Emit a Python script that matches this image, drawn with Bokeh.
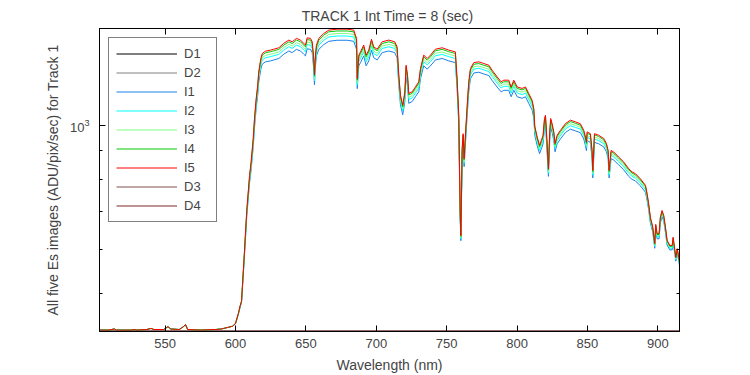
from bokeh.plotting import figure
from bokeh.models import (Range1d, FixedTicker, LinearAxis, LogAxis, Legend, LegendItem,
                          CustomJSTickFormatter)
from bokeh.embed import file_html
from bokeh.resources import INLINE

# ---------------- data ----------------
WAVELENGTH = [
    503.4, 510, 514, 515.5, 526, 528, 530, 537, 540, 542,
    549, 552, 554, 560, 563, 564.5, 566, 575, 586, 590,
    595, 598, 600, 602, 603.3, 604.3, 606, 608, 610, 611.1,
    612.6, 613.5, 614.7, 615.8, 616.5, 618, 619, 621.3, 624.9, 627.2,
    630.8, 634.3, 637.9, 640.3, 643.3, 646.2, 648.5, 649.7, 650.9, 653.3,
    654.5, 655.6, 656.1, 656.8, 657.5, 659.2, 662.7, 666.3, 672.2, 679.3,
    684, 685.2, 686, 686.5, 687.6, 688.8, 691.1, 692.8, 694.7, 696.6,
    698.2, 700.6, 704.2, 708.9, 713.1, 714.8, 716, 717.2, 718.8, 720.3,
    721.2, 722.2, 723.1, 725.5, 727.8, 730.2, 731.4, 733.7, 736.2, 738.5,
    742, 746.8, 751.5, 756.2, 757.4, 758.6, 759.6, 760.1, 761, 761.7,
    762.4, 763.4, 764.6, 765.7, 766.9, 769.3, 772.8, 776.4, 780, 782.3,
    785.9, 788.7, 790.6, 794.1, 795.8, 797.7, 800.1, 803.6, 806, 808.3,
    810.7, 811.9, 812.6, 814.3, 816, 817.3, 818.5, 819.5, 820.2, 820.9,
    821.8, 822.3, 823.2, 823.9, 824.9, 826.1, 827, 828.5, 830.8, 834.4,
    837.9, 841.5, 845, 847.4, 848.6, 849.3, 849.8, 852.1, 853.3, 853.8,
    855, 858, 861.6, 863.5, 864.7, 865.4, 866.8, 868.7, 872.2, 875.8,
    879.3, 881.7, 884.1, 887.6, 891.2, 892.4, 893.5, 894.7, 896.4, 897.8,
    898.5, 899.5, 900.9, 901.8, 903, 904.2, 905.4, 906.6, 908.5, 910.2,
    910.9, 911.8, 912.8, 913.8, 914.9, 915.6,
]

I5 = [
    431, 431, 433, 431, 431, 432, 431, 432, 434, 432,
    432, 437, 433, 432, 437, 441, 432, 431, 432, 433,
    436, 438, 443, 461, 476, 486, 573, 704, 813, 859,
    946, 1027, 1114, 1177, 1243, 1314, 1341, 1354, 1360, 1365,
    1373, 1398, 1417, 1407, 1427, 1417, 1398, 1388, 1430, 1427,
    1407, 1314, 1230, 1332, 1388, 1427, 1456, 1476, 1482, 1482,
    1476, 1446, 1427, 1210, 1332, 1350, 1388, 1332, 1360, 1422,
    1378, 1365, 1407, 1417, 1407, 1378, 1227, 1130, 1084, 1146,
    1278, 1227, 1138, 1146, 1169, 1194, 1261, 1332, 1314, 1332,
    1365, 1373, 1360, 1350, 1210, 1041, 699, 635, 908, 965,
    871, 965, 1084, 1194, 1261, 1292, 1296, 1287, 1278, 1252,
    1218, 1194, 1202, 1202, 1169, 1202, 1169, 1162, 1169, 1138,
    1107, 1070, 995, 952, 920, 939, 959, 1027, 1041, 972,
    883, 836, 972, 1027, 1006, 972, 927, 959, 978, 1006,
    1020, 1013, 1005, 978, 952, 932, 972, 965, 901, 830,
    965, 959, 946, 927, 901, 830, 901, 895, 877, 859,
    836, 825, 819, 802, 781, 754, 724, 685, 658, 615,
    665, 640, 640, 685, 704, 690, 658, 623, 610, 610,
    631, 606, 581, 602, 581, 566,
]

I4 = [
    431, 431, 433, 431, 431, 432, 431, 432, 434, 432,
    432, 437, 433, 432, 437, 441, 432, 431, 432, 433,
    436, 438, 443, 461, 476, 485, 572, 701, 809, 855,
    941, 1021, 1107, 1170, 1235, 1305, 1332, 1345, 1351, 1356,
    1364, 1388, 1407, 1397, 1417, 1407, 1388, 1378, 1420, 1417,
    1397, 1305, 1222, 1323, 1378, 1417, 1446, 1466, 1471, 1471,
    1466, 1436, 1417, 1202, 1323, 1341, 1378, 1323, 1351, 1412,
    1369, 1356, 1397, 1407, 1397, 1369, 1219, 1123, 1077, 1139,
    1270, 1219, 1131, 1139, 1162, 1186, 1253, 1323, 1305, 1323,
    1356, 1364, 1351, 1341, 1202, 1035, 696, 633, 903, 960,
    867, 960, 1077, 1186, 1253, 1283, 1287, 1278, 1270, 1244,
    1210, 1186, 1194, 1194, 1162, 1194, 1162, 1155, 1162, 1131,
    1100, 1064, 989, 947, 915, 934, 954, 1021, 1035, 967,
    878, 832, 967, 1021, 1000, 967, 922, 954, 973, 1000,
    1014, 1007, 999, 973, 947, 927, 967, 960, 896, 826,
    960, 954, 941, 922, 896, 826, 896, 890, 873, 855,
    832, 821, 815, 798, 778, 751, 721, 682, 656, 613,
    663, 638, 638, 682, 701, 687, 656, 621, 608, 608,
    629, 604, 580, 600, 580, 565,
]

I3 = [
    431, 431, 433, 431, 431, 432, 431, 432, 434, 432,
    432, 437, 433, 432, 437, 441, 432, 431, 432, 433,
    436, 438, 443, 460, 475, 485, 569, 697, 803, 848,
    933, 1012, 1097, 1158, 1223, 1292, 1318, 1331, 1337, 1342,
    1349, 1374, 1392, 1383, 1402, 1392, 1374, 1364, 1405, 1402,
    1383, 1292, 1210, 1309, 1364, 1402, 1430, 1450, 1456, 1456,
    1450, 1421, 1402, 1191, 1309, 1327, 1364, 1309, 1337, 1397,
    1354, 1342, 1383, 1392, 1383, 1354, 1207, 1113, 1068, 1128,
    1257, 1207, 1120, 1128, 1151, 1175, 1240, 1309, 1292, 1309,
    1342, 1349, 1337, 1327, 1191, 1026, 692, 630, 896, 952,
    860, 952, 1068, 1175, 1240, 1270, 1274, 1266, 1257, 1231,
    1198, 1175, 1183, 1183, 1151, 1183, 1151, 1144, 1151, 1120,
    1090, 1054, 981, 939, 908, 926, 946, 1012, 1026, 958,
    872, 826, 958, 1012, 992, 958, 915, 946, 964, 992,
    1005, 998, 991, 964, 939, 919, 958, 952, 889, 820,
    952, 946, 933, 915, 889, 820, 889, 883, 866, 848,
    826, 815, 809, 793, 772, 746, 717, 679, 652, 610,
    659, 635, 635, 679, 697, 684, 652, 618, 606, 606,
    626, 602, 577, 598, 577, 563,
]

I2 = [
    431, 431, 433, 431, 431, 432, 431, 432, 434, 432,
    432, 437, 433, 432, 437, 441, 432, 431, 432, 433,
    436, 438, 443, 460, 474, 484, 567, 693, 798, 842,
    926, 1004, 1087, 1148, 1211, 1280, 1306, 1318, 1324, 1329,
    1336, 1360, 1379, 1369, 1388, 1379, 1360, 1351, 1391, 1388,
    1369, 1280, 1199, 1297, 1351, 1388, 1416, 1435, 1441, 1441,
    1435, 1406, 1388, 1180, 1297, 1314, 1351, 1297, 1324, 1383,
    1341, 1329, 1369, 1379, 1369, 1341, 1196, 1103, 1059, 1118,
    1245, 1196, 1110, 1118, 1140, 1164, 1229, 1297, 1280, 1297,
    1329, 1336, 1324, 1314, 1180, 1017, 689, 627, 889, 944,
    854, 944, 1059, 1164, 1229, 1258, 1262, 1254, 1245, 1220,
    1187, 1164, 1172, 1172, 1140, 1172, 1140, 1133, 1140, 1110,
    1081, 1045, 973, 932, 901, 919, 938, 1004, 1017, 951,
    865, 820, 951, 1004, 984, 951, 908, 938, 957, 984,
    997, 990, 983, 957, 932, 912, 951, 944, 883, 814,
    944, 938, 926, 908, 883, 814, 883, 877, 860, 842,
    820, 810, 804, 788, 767, 741, 713, 675, 649, 608,
    656, 632, 632, 675, 693, 680, 649, 616, 603, 603,
    623, 599, 575, 595, 575, 561,
]

I1 = [
    431, 431, 433, 431, 431, 432, 431, 432, 434, 432,
    432, 437, 433, 432, 437, 440, 432, 431, 432, 433,
    436, 438, 442, 459, 473, 483, 564, 687, 789, 832,
    914, 989, 1071, 1130, 1192, 1258, 1284, 1296, 1301, 1306,
    1314, 1337, 1355, 1346, 1364, 1355, 1337, 1328, 1367, 1364,
    1346, 1258, 1180, 1275, 1328, 1364, 1391, 1410, 1416, 1416,
    1410, 1382, 1364, 1161, 1275, 1292, 1328, 1275, 1301, 1360,
    1318, 1306, 1346, 1355, 1346, 1318, 1177, 1086, 1043, 1101,
    1225, 1177, 1093, 1101, 1123, 1146, 1209, 1275, 1258, 1275,
    1306, 1314, 1301, 1292, 1161, 1003, 682, 622, 878, 931,
    843, 931, 1043, 1146, 1209, 1238, 1242, 1233, 1225, 1200,
    1168, 1146, 1153, 1153, 1123, 1153, 1123, 1116, 1123, 1093,
    1064, 1030, 959, 919, 889, 907, 926, 989, 1003, 938,
    855, 810, 938, 989, 970, 938, 896, 926, 944, 970,
    983, 976, 969, 944, 919, 900, 938, 931, 871, 805,
    931, 926, 914, 896, 871, 805, 871, 866, 849, 832,
    810, 800, 795, 779, 759, 734, 706, 669, 644, 603,
    650, 627, 627, 669, 687, 674, 644, 611, 599, 599,
    618, 595, 572, 591, 572, 557,
]

DARK_WAVELENGTH = [503.4, 600.0, 700.0, 800.0, 915.6]
D1 = [429, 429, 429, 429, 429]
D2 = [429, 429, 429, 429, 429]
D3 = [429, 429, 429, 429, 429]
D4 = [429, 429, 429, 429, 429]

X_TICKS = [550, 600, 650, 700, 750, 800, 850, 900]
Y_MAJOR_TICKS = [1000]
Y_MINOR_TICKS = [500, 600, 700, 800, 900]

SERIES = [
    ("D1", DARK_WAVELENGTH, D1, "#000000"),
    ("D2", DARK_WAVELENGTH, D2, "#808080"),
    ("I1", WAVELENGTH, I1, "#1a80e6"),
    ("I2", WAVELENGTH, I2, "#00ffff"),
    ("I3", WAVELENGTH, I3, "#80ff80"),
    ("I4", WAVELENGTH, I4, "#00c800"),
    ("I5", WAVELENGTH, I5, "#ff0000"),
    ("D3", DARK_WAVELENGTH, D3, "#805050"),
    ("D4", DARK_WAVELENGTH, D4, "#802828"),
]

FONT = "Liberation Sans"

# ---------------- figure ----------------
p = figure(
    frame_width=580, frame_height=303,
    x_range=Range1d(503.4, 915.4), y_range=Range1d(428.5, 1486),
    y_axis_type="log",
    output_backend="svg", toolbar_location=None,
    title="TRACK 1  Int Time = 8 (sec)",
    min_border_left=99, min_border_right=71, min_border_top=28, min_border_bottom=44,
)
p.background_fill_color = "white"
p.border_fill_color = "white"
p.outline_line_color = "black"
p.outline_line_width = 1
p.grid.visible = False

p.title.text_font = FONT
p.title.text_font_size = "14px"
p.title.text_font_style = "normal"
p.title.align = "center"
p.title.standoff = 9

renderers = []
for name, xs, ys, color in SERIES:
    r = p.line(xs, ys, line_color=color, line_width=1)
    renderers.append((name, r))

# bottom axis
xa = p.xaxis[0]
xa.ticker = FixedTicker(ticks=X_TICKS)
xa.major_tick_in = 6
xa.major_tick_out = 0
xa.minor_tick_line_color = None
xa.major_label_text_font = FONT
xa.major_label_text_font_size = "13px"
xa.major_label_standoff = 7
xa.axis_label = "Wavelength (nm)"
xa.axis_label_text_font = FONT
xa.axis_label_text_font_size = "14px"
xa.axis_label_text_font_style = "normal"
xa.axis_label_standoff = 6

# left axis
ya = p.yaxis[0]
ya.ticker = FixedTicker(ticks=Y_MAJOR_TICKS, minor_ticks=Y_MINOR_TICKS)
ya.major_tick_in = 6
ya.major_tick_out = 0
ya.minor_tick_in = 3
ya.minor_tick_out = 0
ya.major_label_text_font = FONT
ya.major_label_text_font_size = "13px"
ya.major_label_standoff = 10
ya.axis_label = "All five Es images (ADU/pix/sec) for Track 1"
ya.axis_label_text_font = FONT
ya.axis_label_text_font_size = "14px"
ya.axis_label_text_font_style = "normal"
ya.axis_label_standoff = 6

blank = CustomJSTickFormatter(code="return ''")

top_axis = LinearAxis(
    ticker=FixedTicker(ticks=X_TICKS), formatter=blank,
    major_tick_in=6, major_tick_out=0, minor_tick_line_color=None,
    major_label_standoff=0,
)
p.add_layout(top_axis, "above")

right_axis = LogAxis(
    ticker=FixedTicker(ticks=Y_MAJOR_TICKS, minor_ticks=Y_MINOR_TICKS), formatter=blank,
    major_tick_in=6, major_tick_out=0, minor_tick_in=3, minor_tick_out=0,
    major_label_standoff=0,
)
p.add_layout(right_axis, "right")

legend = Legend(
    items=[LegendItem(label=n, renderers=[r]) for n, r in renderers],
    location="top_left", margin=9, padding=7, spacing=2,
    glyph_width=61, glyph_height=17, label_height=17, label_width=25,
    label_standoff=7,
    label_text_font=FONT, label_text_font_size="13px",
    border_line_color="black", border_line_width=1,
    background_fill_color="white", background_fill_alpha=1,
)
p.add_layout(legend)

open("out.html", "w").write(file_html(p, INLINE))
